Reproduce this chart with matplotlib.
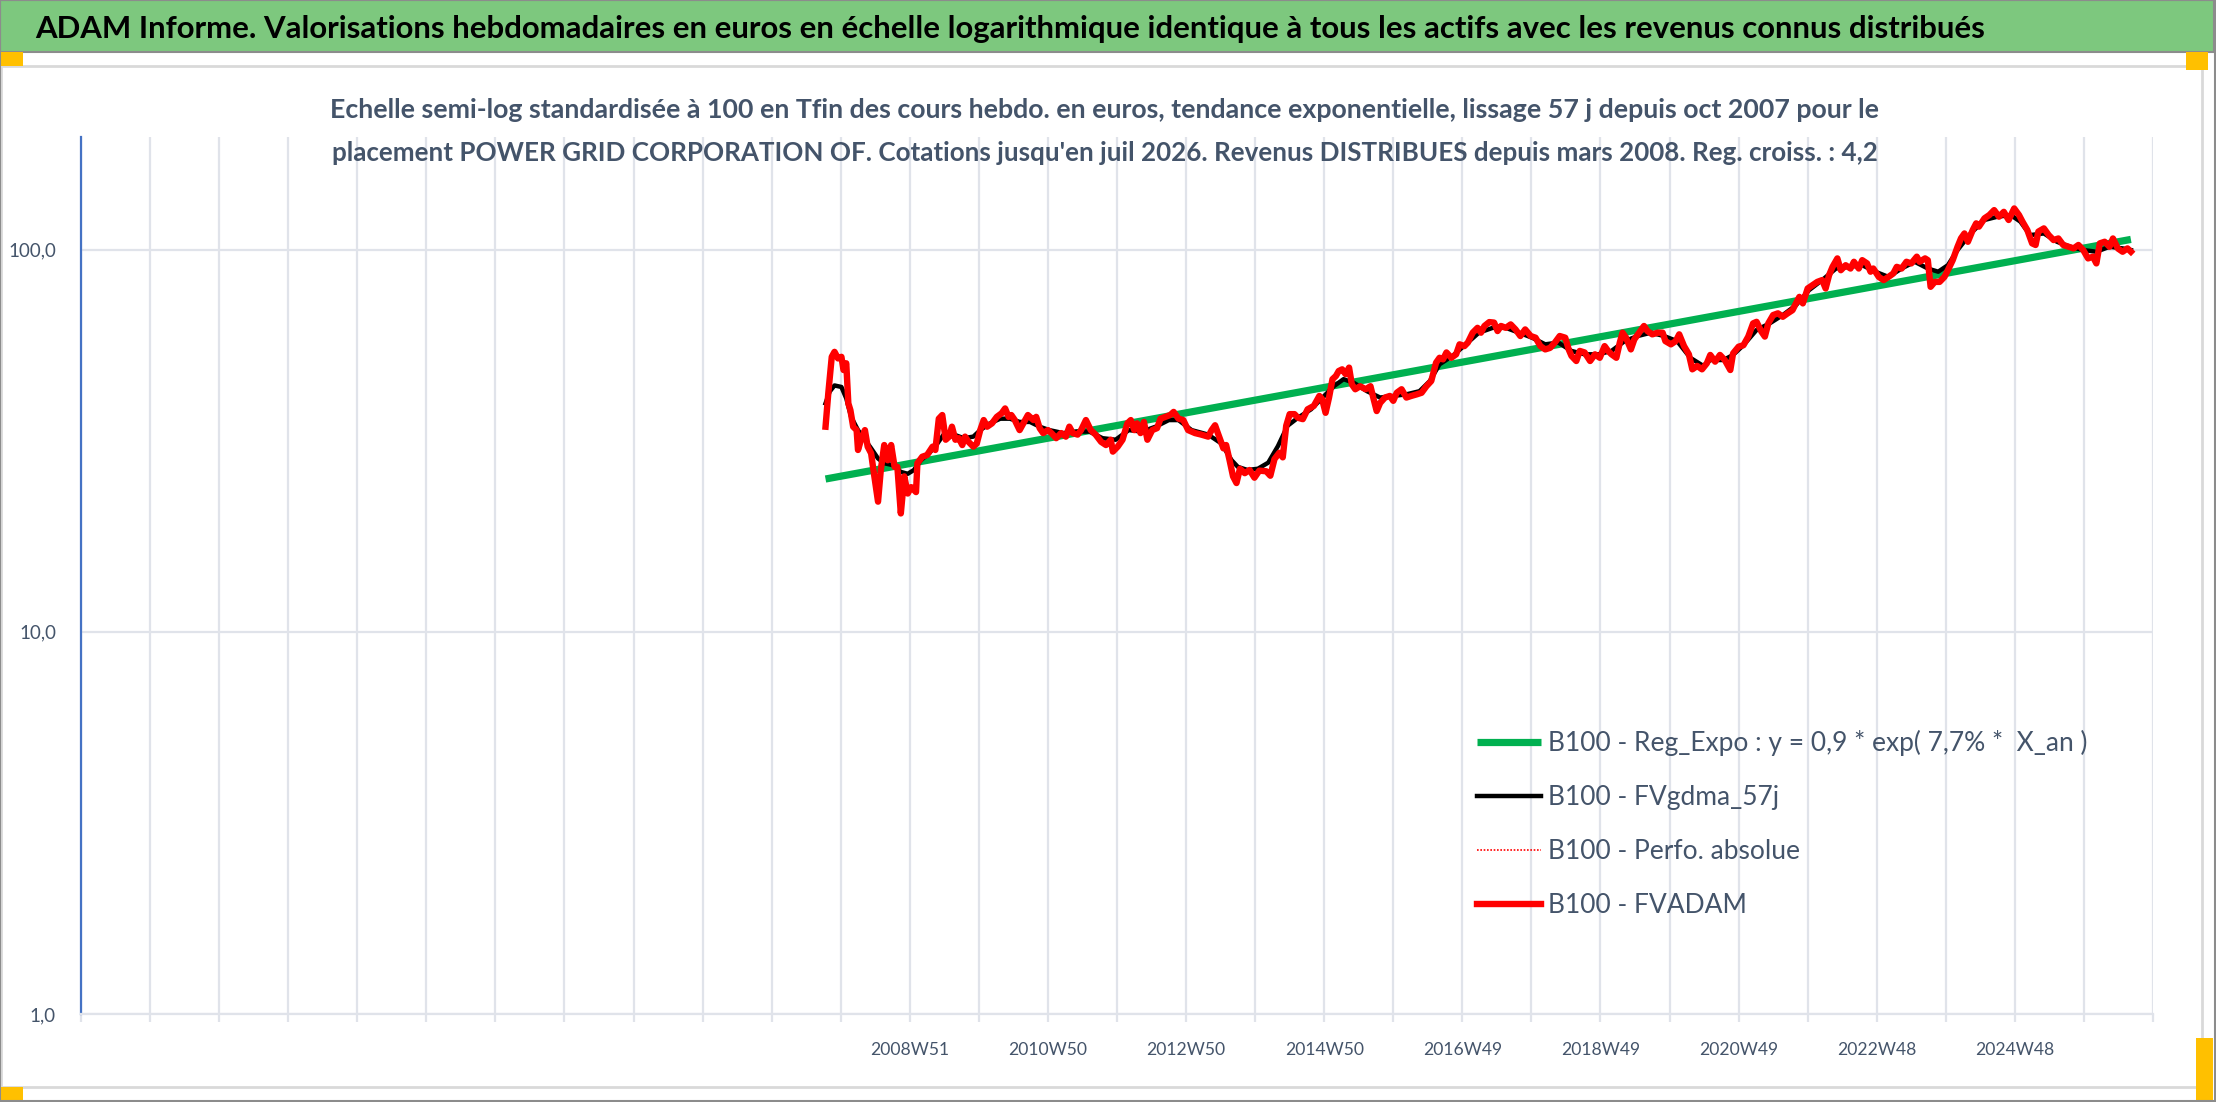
import matplotlib
matplotlib.use("Agg")
import matplotlib.pyplot as plt
from matplotlib.patches import Rectangle

# --- data (decimal year, base 100) ---
fvadam_x = [
    2007.74, 2007.78, 2007.83, 2007.87, 2007.92, 2007.97, 2008.00, 2008.04, 2008.07, 2008.10,
    2008.14, 2008.19, 2008.21, 2008.26, 2008.31, 2008.35, 2008.40, 2008.44, 2008.50, 2008.54,
    2008.59, 2008.64, 2008.69, 2008.74, 2008.78, 2008.83, 2008.88, 2008.93, 2008.98, 2009.05,
    2009.07, 2009.14, 2009.21, 2009.29, 2009.33, 2009.38, 2009.43, 2009.48, 2009.53, 2009.57,
    2009.62, 2009.67, 2009.72, 2009.76, 2009.81, 2009.88, 2009.93, 2009.98, 2010.03, 2010.08,
    2010.15, 2010.22, 2010.29, 2010.34, 2010.39, 2010.43, 2010.48, 2010.55, 2010.63, 2010.67,
    2010.75, 2010.79, 2010.84, 2010.89, 2010.96, 2011.01, 2011.08, 2011.15, 2011.22, 2011.27,
    2011.32, 2011.39, 2011.44, 2011.51, 2011.58, 2011.65, 2011.73, 2011.80, 2011.87, 2011.90,
    2011.97, 2012.04, 2012.11, 2012.16, 2012.21, 2012.25, 2012.30, 2012.35, 2012.40, 2012.47,
    2012.54, 2012.59, 2012.66, 2012.73, 2012.78, 2012.85, 2012.92, 2012.99, 2013.09, 2013.18,
    2013.28, 2013.33, 2013.38, 2013.42, 2013.50, 2013.54, 2013.59, 2013.64, 2013.69, 2013.74,
    2013.81, 2013.88, 2013.95, 2014.02, 2014.12, 2014.18, 2014.24, 2014.31, 2014.36, 2014.41,
    2014.46, 2014.53, 2014.58, 2014.65, 2014.72, 2014.81, 2014.89, 2014.93, 2014.98, 2015.03,
    2015.08, 2015.13, 2015.17, 2015.22, 2015.27, 2015.32, 2015.36, 2015.41, 2015.48, 2015.56,
    2015.63, 2015.67, 2015.72, 2015.77, 2015.84, 2015.91, 2015.96, 2016.01, 2016.08, 2016.15,
    2016.22, 2016.30, 2016.37, 2016.44, 2016.51, 2016.58, 2016.63, 2016.68, 2016.73, 2016.80,
    2016.87, 2016.92, 2016.99, 2017.04, 2017.11, 2017.18, 2017.23, 2017.28, 2017.35, 2017.42,
    2017.47, 2017.52, 2017.59, 2017.66, 2017.73, 2017.80, 2017.87, 2017.95, 2018.02, 2018.09,
    2018.16, 2018.23, 2018.30, 2018.37, 2018.45, 2018.50, 2018.54, 2018.61, 2018.66, 2018.73,
    2018.81, 2018.88, 2018.95, 2019.02, 2019.07, 2019.12, 2019.19, 2019.24, 2019.28, 2019.33,
    2019.40, 2019.45, 2019.52, 2019.59, 2019.64, 2019.71, 2019.79, 2019.86, 2019.90, 2019.98,
    2020.05, 2020.10, 2020.17, 2020.24, 2020.29, 2020.36, 2020.43, 2020.50, 2020.55, 2020.62,
    2020.69, 2020.76, 2020.84, 2020.88, 2020.96, 2021.03, 2021.10, 2021.17, 2021.22, 2021.29,
    2021.34, 2021.39, 2021.46, 2021.53, 2021.60, 2021.67, 2021.74, 2021.79, 2021.84, 2021.89,
    2021.96, 2022.03, 2022.10, 2022.17, 2022.22, 2022.27, 2022.32, 2022.39, 2022.44, 2022.51,
    2022.58, 2022.63, 2022.70, 2022.75, 2022.82, 2022.87, 2022.91, 2022.99, 2023.06, 2023.13,
    2023.20, 2023.25, 2023.32, 2023.39, 2023.46, 2023.54, 2023.58, 2023.66, 2023.70, 2023.74,
    2023.80, 2023.87, 2023.94, 2023.99, 2024.06, 2024.13, 2024.18, 2024.23, 2024.28, 2024.35,
    2024.40, 2024.44, 2024.52, 2024.59, 2024.66, 2024.73, 2024.80, 2024.87, 2024.95, 2025.02,
    2025.07, 2025.14, 2025.21, 2025.26, 2025.30, 2025.38, 2025.45, 2025.52, 2025.59, 2025.66,
    2025.74, 2025.81, 2025.88, 2025.95, 2026.02, 2026.09, 2026.14, 2026.19, 2026.26, 2026.33,
    2026.38, 2026.45, 2026.52, 2026.59, 2026.64,
]
fvadam_y = [
    34.4, 42.1, 52.4, 54.0, 51.9, 52.4, 48.4, 50.4, 39.6, 38.0,
    34.4, 33.7, 29.9, 32.1, 33.7, 30.5, 29.3, 26.0, 21.9, 26.5,
    30.8, 28.1, 30.8, 27.0, 27.0, 20.4, 25.5, 23.0, 23.9, 23.2,
    27.6, 28.7, 29.0, 30.5, 29.9, 36.1, 36.9, 31.8, 32.4, 34.4,
    31.8, 32.1, 30.8, 32.4, 31.4, 30.5, 31.1, 33.7, 35.8, 34.4,
    35.1, 36.5, 37.3, 38.4, 36.5, 36.9, 35.8, 33.7, 35.8, 36.9,
    35.8, 36.5, 34.1, 33.1, 33.7, 33.1, 32.1, 33.1, 32.4, 34.4,
    33.1, 32.8, 33.7, 35.8, 33.7, 32.8, 31.4, 30.8, 31.8, 29.6,
    30.5, 31.8, 35.1, 35.8, 33.7, 35.1, 33.1, 35.4, 31.8, 33.7,
    34.1, 36.1, 36.5, 36.9, 37.6, 36.1, 35.8, 33.7, 33.1, 32.8,
    32.4, 33.7, 34.7, 33.1, 30.2, 30.8, 28.1, 25.5, 24.5, 26.7,
    26.0, 26.5, 25.3, 26.4, 26.3, 25.6, 28.3, 29.4, 28.6, 34.6,
    37.1, 37.1, 36.3, 36.0, 38.2, 39.0, 41.4, 40.6, 37.4, 41.0,
    45.8, 46.7, 48.1, 48.6, 47.2, 49.1, 44.4, 43.1, 43.9, 43.1,
    43.9, 41.0, 37.8, 39.7, 41.0, 41.4, 40.2, 42.2, 43.1, 41.0,
    41.4, 41.8, 42.2, 43.9, 45.3, 50.6, 52.1, 51.6, 53.8, 52.1,
    53.2, 56.5, 55.9, 57.1, 60.6, 62.4, 60.6, 63.1, 64.6, 64.4,
    61.2, 63.1, 62.4, 63.7, 61.8, 59.4, 61.8, 59.4, 58.8, 55.9,
    54.8, 55.3, 57.1, 59.4, 58.8, 54.8, 52.7, 51.1, 54.3, 53.8,
    51.1, 53.2, 52.1, 55.9, 54.3, 53.2, 52.1, 57.1, 60.6, 58.8,
    54.8, 58.2, 60.6, 63.1, 61.2, 60.0, 60.6, 60.6, 57.6, 56.5,
    57.6, 60.0, 55.9, 53.2, 48.6, 49.6, 48.6, 50.4, 53.0, 50.9,
    53.0, 51.4, 48.4, 53.5, 55.7, 56.2, 59.2, 64.1, 64.7, 61.0,
    59.2, 64.1, 67.4, 68.1, 66.7, 68.1, 69.4, 72.3, 75.2, 72.3,
    79.1, 80.7, 82.3, 83.2, 79.1, 85.7, 90.1, 94.8, 88.3, 91.0,
    89.2, 92.9, 89.2, 93.8, 92.0, 87.5, 89.2, 84.8, 83.2, 84.8,
    86.6, 90.1, 89.2, 92.9, 92.0, 95.8, 92.9, 94.8, 93.8, 79.9,
    82.3, 82.3, 84.8, 88.3, 93.8, 101.7, 107.0, 110.2, 104.8, 112.5,
    117.1, 114.8, 120.7, 123.1, 126.8, 121.9, 125.5, 119.5, 128.1, 123.1,
    118.3, 112.5, 103.8, 102.8, 111.4, 113.6, 109.1, 105.9, 106.9, 102.8,
    101.7, 100.7, 102.8, 99.7, 94.8, 95.8, 92.0, 103.8, 104.8, 101.7,
    106.9, 100.7, 98.7, 100.7, 98.7,
]

gdma_x = [
    2007.74, 2007.80, 2007.87, 2007.97, 2008.04, 2008.11, 2008.21, 2008.31, 2008.40, 2008.50,
    2008.59, 2008.71, 2008.83, 2008.93, 2009.02, 2009.12, 2009.24, 2009.36, 2009.45, 2009.60,
    2009.74, 2009.88, 2009.98, 2010.12, 2010.27, 2010.41, 2010.55, 2010.70, 2010.84, 2010.98,
    2011.18, 2011.37, 2011.56, 2011.75, 2011.94, 2012.13, 2012.32, 2012.52, 2012.71, 2012.85,
    2013.04, 2013.28, 2013.47, 2013.62, 2013.71, 2013.85, 2014.00, 2014.15, 2014.29, 2014.43,
    2014.58, 2014.77, 2014.96, 2015.10, 2015.24, 2015.39, 2015.58, 2015.77, 2015.96, 2016.15,
    2016.34, 2016.49, 2016.63, 2016.82, 2017.01, 2017.20, 2017.40, 2017.59, 2017.78, 2017.97,
    2018.16, 2018.35, 2018.54, 2018.73, 2018.93, 2019.12, 2019.31, 2019.50, 2019.69, 2019.88,
    2020.07, 2020.26, 2020.45, 2020.55, 2020.74, 2020.88, 2021.03, 2021.22, 2021.41, 2021.60,
    2021.79, 2021.98, 2022.17, 2022.37, 2022.56, 2022.75, 2022.94, 2023.13, 2023.32, 2023.51,
    2023.70, 2023.85, 2023.99, 2024.13, 2024.32, 2024.52, 2024.71, 2024.90, 2025.04, 2025.18,
    2025.38, 2025.57, 2025.76, 2025.95, 2026.14, 2026.33, 2026.52, 2026.64,
]
gdma_y = [
    39.6, 42.5, 44.1, 43.7, 40.8, 36.5, 33.7, 31.8, 30.2, 28.4,
    27.6, 27.3, 26.2, 25.9, 26.5, 28.1, 29.3, 31.1, 32.8, 32.8,
    32.1, 32.4, 33.7, 35.1, 36.1, 36.1, 35.4, 35.4, 34.4, 33.7,
    33.1, 33.4, 33.4, 32.1, 31.8, 33.7, 33.4, 34.4, 35.8, 35.8,
    33.7, 32.8, 31.1, 28.1, 27.0, 26.5, 26.7, 27.7, 30.6, 34.6,
    36.3, 38.2, 41.4, 43.9, 45.8, 44.8, 42.6, 41.0, 41.4, 41.8,
    42.6, 45.3, 50.1, 52.7, 56.5, 60.6, 62.4, 62.4, 60.6, 58.8,
    56.5, 57.1, 54.3, 53.2, 53.2, 54.3, 57.6, 59.4, 60.6, 59.4,
    57.6, 52.1, 49.6, 51.4, 51.4, 53.0, 56.2, 61.6, 64.1, 67.4,
    71.5, 78.3, 83.2, 89.2, 90.1, 91.0, 87.5, 84.8, 89.2, 92.9,
    89.2, 87.5, 91.0, 99.7, 110.2, 119.5, 121.9, 123.1, 118.3, 109.1,
    110.2, 104.8, 101.7, 99.7, 98.7, 101.7, 100.7, 99.7,
]

reg_x = [2007.74, 2026.64]
reg_y = [25.1, 106.3]

grid_years = [1996.96 + k for k in range(31)]
tick_names = {2008: "2008W51", 2010: "2010W50", 2012: "2012W50", 2014: "2014W50",
              2016: "2016W49", 2018: "2018W49", 2020: "2020W49", 2022: "2022W48",
              2024: "2024W48"}

TITLE = ("ADAM Informe. Valorisations hebdomadaires en euros en échelle logarithmique "
         "identique à tous les actifs avec les revenus connus distribués")
SUB1 = ("Echelle semi-log standardisée à 100 en Tfin des cours hebdo. en euros, tendance "
        "exponentielle, lissage 57 j depuis oct 2007 pour le")
SUB2 = ("placement POWER GRID CORPORATION OF. Cotations jusqu'en juil 2026. Revenus "
        "DISTRIBUES depuis mars 2008. Reg. croiss. : 4,2")
LABELS = ["B100 - Reg_Expo : y = 0,9 * exp( 7,7% *  X_an )", "B100 - FVgdma_57j",
          "B100 - Perfo. absolue", "B100 - FVADAM"]

FONT = ["Lato", "DejaVu Sans"]
TXT = "#44546A"
GRID = "#E0E3EA"

fig = plt.figure(figsize=(22.16, 11.02), dpi=100)
W, H = 2216, 1102
renderer = fig.canvas.get_renderer()


def size_for(s, target_px, weight="normal", base=20.0):
    # font size that gives the text the width it has in the reference
    t = fig.text(0, 0, s, fontsize=base, family=FONT, fontweight=weight)
    w = t.get_window_extent(renderer).width
    t.remove()
    return base * target_px / w


def px_rect(x0, y0, x1, y1, **kw):
    # rectangle in pixel coords (top-left origin)
    fig.patches.append(Rectangle((x0 / W, 1 - y1 / H), (x1 - x0) / W, (y1 - y0) / H,
                                 transform=fig.transFigure, figure=fig, **kw))


# frame, banner and corner marks
px_rect(1, 66, 2202, 1087, facecolor="none", edgecolor="#D9D9D9", linewidth=2, zorder=-1)
px_rect(0, 0, 2214, 52, facecolor="#7DC87E", edgecolor="#8C8C8C", linewidth=1.5)
px_rect(0, 52, 23, 66, facecolor="#FFC000", edgecolor="none")
px_rect(2186, 52, 2208, 70, facecolor="#FFC000", edgecolor="none")
px_rect(0, 1087, 23, 1100, facecolor="#FFC000", edgecolor="none")
px_rect(2196, 1038, 2213, 1100, facecolor="#FFC000", edgecolor="none")
px_rect(0, 0, 2215, 1101, facecolor="none", edgecolor="#8C8C8C", linewidth=1.5)

fig.text(35 / W, 1 - 29 / H, TITLE, family=FONT, fontweight="bold", color="black",
         fontsize=size_for(TITLE, 1950, "bold"), ha="left", va="center")
fig.text(1105 / W, 1 - 110 / H, SUB1, family=FONT, fontweight="bold", color=TXT,
         fontsize=size_for(SUB1, 1552, "bold"), ha="center", va="center")
fig.text(1105 / W, 1 - 153 / H, SUB2, family=FONT, fontweight="bold", color=TXT,
         fontsize=size_for(SUB2, 1540, "bold"), ha="center", va="center")

ax = fig.add_axes([81 / W, 1 - 1014 / H, (2153 - 81) / W, (1014 - 137) / H])
ax.set_facecolor("none")
ax.set_yscale("log")
ax.set_ylim(1, 197)
ax.set_xlim(1996.96, 2026.66)

ax.plot(reg_x, reg_y, color="#00B050", lw=5.2, solid_capstyle="butt",
        label=LABELS[0], zorder=3)
ax.plot(gdma_x, gdma_y, color="black", lw=3.2, solid_joinstyle="round",
        label=LABELS[1], zorder=4)
ax.plot(fvadam_x, fvadam_y, color="#FF0000", lw=1.2, ls=(0, (1, 1)),
        label=LABELS[2], zorder=4)
ax.plot(fvadam_x, fvadam_y, color="#FF0000", lw=4.6, solid_joinstyle="round",
        label=LABELS[3], zorder=5)

ax.set_yticks([1, 10, 100])
ax.set_yticklabels(["1,0", "10,0", "100,0"])
ax.minorticks_off()
ax.set_xticks(grid_years)
ax.set_xticklabels([tick_names.get(int(round(g - 0.96)), "") for g in grid_years])
ax.grid(True, axis="both", color=GRID, lw=1.6)
ax.set_axisbelow(True)

for side in ("top", "right"):
    ax.spines[side].set_visible(False)
ax.spines["left"].set_color("#4472C4")
ax.spines["left"].set_linewidth(1.6)
ax.spines["bottom"].set_color(GRID)
ax.spines["bottom"].set_linewidth(1.6)
ax.tick_params(axis="y", length=0, pad=18, labelsize=size_for("100,0", 48),
               labelcolor=TXT)
ax.tick_params(axis="x", length=6, width=1.6, color=GRID, pad=14,
               labelsize=size_for("2016W49", 79), labelcolor=TXT)
for lbl in ax.get_xticklabels() + ax.get_yticklabels():
    lbl.set_family(FONT)

leg_size = size_for(LABELS[0], 540)
leg = ax.legend(loc="upper left", bbox_to_anchor=(1477 / W, 1 - 730 / H),
                bbox_transform=fig.transFigure, frameon=False, borderpad=0,
                borderaxespad=0, handlelength=64 / (leg_size * 100 / 72),
                handletextpad=0.25, labelspacing=1.1,
                prop={"family": FONT, "size": leg_size})
for t in leg.get_texts():
    t.set_color(TXT)

fig.savefig("out.png", dpi=100)
